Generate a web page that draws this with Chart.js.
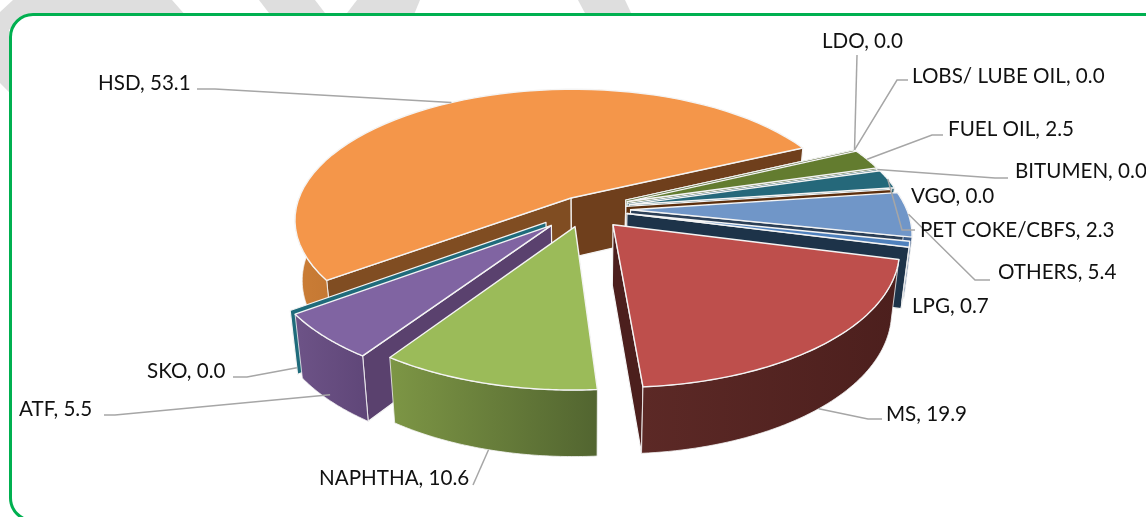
<!DOCTYPE html>
<html>
<head>
<meta charset="utf-8">
<title>Product share</title>
<script src="https://cdn.jsdelivr.net/npm/chart.js@4"></script>
<style>
  html, body { margin: 0; padding: 0; background: #fff; }
  #stage { position: relative; width: 1146px; height: 517px; overflow: hidden; }
  #bands { position: absolute; left: 0; top: 0; }
  #frame { position: absolute; left: 9px; top: 13px; width: 1160px; height: 509px; box-sizing: border-box;
           border: 3.5px solid #00B050; border-radius: 24px; background: #fff; }
  #chart { position: absolute; left: 0; top: 0; }
</style>
</head>
<body>
<div id="stage">
  <svg id="bands" width="1146" height="517">
    <polygon fill="#DEDEDE" points="13,0 172,0 187,17 20,17 9,30 9,92 0,83 0,12"/>
    <polygon fill="#DEDEDE" points="259,0 315,0 328,17 272,17"/>
    <polygon fill="#DEDEDE" points="357,0 420,0 413,17 344,17"/>
    <polygon fill="#DEDEDE" points="578,0 625,0 633,17 587,17"/>
  </svg>
  <div id="frame"></div>
  <canvas id="chart" width="1146" height="517"></canvas>
</div>
<script>
// ---- data, clockwise from the end of HSD ----
const products = ["LDO", "LOBS/ LUBE OIL", "FUEL OIL", "BITUMEN", "PET COKE/CBFS", "VGO", "OTHERS", "LPG", "MS", "NAPHTHA", "ATF", "SKO", "HSD"];
const shares = [0.0, 0.0, 2.5, 0.0, 2.3, 0.0, 5.4, 0.7, 19.9, 10.6, 5.5, 0.0, 53.1];

// ---- slice styling ----
const explode = [0.165, 0.165, 0.165, 0.16, 0.165, 0.15, 0.165, 0.155, 0.155, 0.137, 0.172, 0.172, 0.1];
const topColors = ["#4F6228", "#4F6228", "#637C2F", "#2C6B7C", "#25687A", "#8A5A2B", "#7096C8", "#4F81BD", "#BE4F4C", "#9BBB59", "#8064A2", "#2A7080", "#F4964A"];
const sideLight = ["#4F6228", "#4F6228", "#4F6228", "#1F5666", "#1F5666", "#5C2E0C", "#3A5A85", "#1F3550", "#5C2926", "#7D9645", "#6D5387", "#1F6B7B", "#CB7D36"];
const sideDark = ["#4F6228", "#4F6228", "#4F6228", "#1F5666", "#1F5666", "#5C2E0C", "#3A5A85", "#1D3349", "#4C1F1D", "#526530", "#5F4678", "#1F6B7B", "#C47833"];
const cutColors = ["#4F6228", "#4F6228", "#4A5F26", "#1F5666", "#1F5666", "#5C2E0C", "#2B3F57", "#1D3349", "#4C1F1D", "#526530", "#5A416E", "#1F6B7B", "#6F3F1C"];
const cutColorsStart = ["#4F6228", "#4F6228", "#4A5F26", "#1F5666", "#1F5666", "#5C2E0C", "#2B3F57", "#1D3349", "#4C1F1D", "#526530", "#5A416E", "#1F6B7B", "#804D22"];

// ---- label layout: text left/middle, leader points from the text side, depth of the leader tip on the slice ----
const labelX = [822, 912, 948, 1015, 920, 911, 998, 912, 886, 319, 19, 147, 98];
const labelY = [41, 76, 129, 171, 230, 196, 272, 306, 414, 478, 409, 371, 83];
const leaderPath = [
  [[857, 55]],
  [[908, 80], [897, 80]],
  [[943, 135], [932, 135]],
  [[1008, 178], [995, 178]],
  [[915, 230], [902, 230]],
  null,
  [[990, 280], [975, 280]],
  null,
  [[882, 419], [868, 419]],
  [[473, 485]],
  [[104, 415], [115, 415]],
  [[233, 377], [247, 377]],
  [[197, 89], [215, 89]]
];
const leaderDepth = [0, 0, 0, 0, 0, 0, 0, 0, 1, 1, 0.9, 0.9, 0];

// ---- tilt of the pie ----
const TILT_X = 276 / 209;
const TILT_Y = 130 / 209;
const PERSPECTIVE = 0.165;
const WALL = 60 / 209;
const STEPS = 60;

function project(arc, mid, e, r, phi, z) {
  const R = arc.outerRadius;
  const u = e * Math.cos(mid) + r * Math.cos(phi);
  const v = e * Math.sin(mid) + r * Math.sin(phi);
  const s = 1 / (1 - PERSPECTIVE * v);
  return {
    x: arc.x + u * R * TILT_X * s * (1 - 0.025 * z),
    y: arc.y + v * R * TILT_Y * s + z * R * WALL * Math.sqrt(s)
  };
}

function tracePoly(ctx, pts) {
  ctx.beginPath();
  pts.forEach((p, i) => i ? ctx.lineTo(p.x, p.y) : ctx.moveTo(p.x, p.y));
  ctx.closePath();
}

function rimPoints(arc, mid, e, a0, a1, z) {
  const pts = [];
  for (let i = 0; i <= STEPS; i++) pts.push(project(arc, mid, e, 1, a0 + (a1 - a0) * i / STEPS, z));
  return pts;
}

function fillStroke(ctx, fill, pts, lw) {
  tracePoly(ctx, pts);
  ctx.fillStyle = fill;
  ctx.fill();
  ctx.lineWidth = lw;
  ctx.strokeStyle = "#F4F4F4";
  ctx.stroke();
}

function drawCut(ctx, arc, mid, e, phi, color) {
  const pts = [
    project(arc, mid, e, 0, phi, 0), project(arc, mid, e, 1, phi, 0),
    project(arc, mid, e, 1, phi, 1), project(arc, mid, e, 0, phi, 1)
  ];
  fillStroke(ctx, color, pts, 1.2);
}

// outer wall, only the part that faces the viewer
function drawOuter(ctx, arc, mid, e, a0, a1, i) {
  const TAU = Math.PI * 2;
  for (let k = -1; k <= 1; k++) {
    const from = Math.max(a0, k * TAU), to = Math.min(a1, k * TAU + Math.PI);
    if (to <= from) continue;
    const upper = rimPoints(arc, mid, e, from, to, 0);
    const lower = rimPoints(arc, mid, e, to, from, 1);
    const xs = upper.concat(lower).map(p => p.x);
    const grad = ctx.createLinearGradient(Math.min(...xs), 0, Math.max(...xs), 0);
    grad.addColorStop(0, sideLight[i]);
    grad.addColorStop(1, sideDark[i]);
    fillStroke(ctx, grad, upper.concat(lower), 0.8);
  }
}

const pie3d = {
  id: "pie3d",
  beforeDatasetsDraw(chart) {
    const ctx = chart.ctx;
    const arcs = chart.getDatasetMeta(0).data;
    const order = arcs.map((a, i) => i).sort((p, q) =>
      Math.sin((arcs[p].startAngle + arcs[p].endAngle) / 2) - Math.sin((arcs[q].startAngle + arcs[q].endAngle) / 2));

    ctx.save();
    ctx.lineJoin = "round";
    order.forEach(i => {
      const arc = arcs[i];
      const a0 = arc.startAngle, a1 = arc.endAngle, mid = (a0 + a1) / 2, e = explode[i];
      if (a1 - a0 < 1e-6) {
        drawCut(ctx, arc, mid, e, a0, cutColors[i]);
        return;
      }
      if (Math.cos(a0) < 0) drawCut(ctx, arc, mid, e, a0, cutColorsStart[i]);
      if (Math.cos(a1) > 0) drawCut(ctx, arc, mid, e, a1, cutColors[i]);
      drawOuter(ctx, arc, mid, e, a0, a1, i);
      const top = rimPoints(arc, mid, e, a0, a1, 0);
      top.push(project(arc, mid, e, 0, a0, 0));
      fillStroke(ctx, topColors[i], top, 1.4);
    });

    // leaders and data labels
    ctx.lineJoin = "miter";
    ctx.lineWidth = 1.5;
    ctx.strokeStyle = "#A6A6A6";
    arcs.forEach((arc, i) => {
      if (!leaderPath[i]) return;
      const mid = (arc.startAngle + arc.endAngle) / 2;
      const tip = project(arc, mid, explode[i], 1, mid, leaderDepth[i]);
      ctx.beginPath();
      leaderPath[i].forEach((p, k) => k ? ctx.lineTo(p[0], p[1]) : ctx.moveTo(p[0], p[1]));
      ctx.lineTo(tip.x, tip.y);
      ctx.stroke();
    });
    ctx.font = "20.6px Lato";
    ctx.fillStyle = "#111";
    ctx.textBaseline = "middle";
    ctx.textAlign = "left";
    products.forEach((name, i) => {
      ctx.fillText(name + ", " + shares[i].toFixed(1), labelX[i], labelY[i]);
    });
    ctx.restore();
    return false;
  }
};

new Chart(document.getElementById("chart"), {
  type: "pie",
  data: {
    labels: products,
    datasets: [{ data: shares, backgroundColor: topColors, borderWidth: 0 }]
  },
  options: {
    responsive: false,
    animation: false,
    rotation: 65,
    layout: { padding: { left: 24, bottom: 99 } },
    plugins: { legend: { display: false }, tooltip: { enabled: false } }
  },
  plugins: [pie3d]
});
</script>
</body>
</html>
